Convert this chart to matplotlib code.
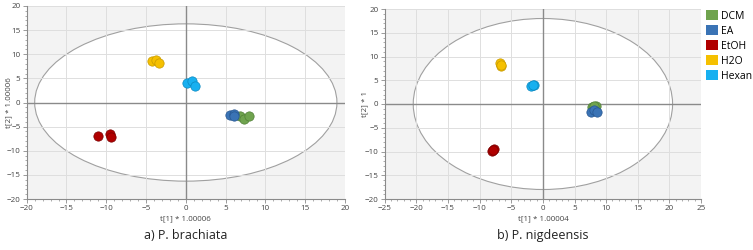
import matplotlib.pyplot as plt
from matplotlib.patches import Ellipse, Patch
from matplotlib.ticker import MultipleLocator

plt.rcParams["font.family"] = ["Open Sans", "DejaVu Sans"]


# =====================================================
# DATA
# =====================================================

groups = ["DCM", "EA", "EtOH", "H2O", "Hexan"]
colors = ["#6fa34e", "#3a73b5", "#b00000", "#f5c000", "#18b0f0"]
edges = ["#4f7f35", "#25558f", "#7a0000", "#c79a00", "#0a88c0"]

# P. brachiata scores (t[1], t[2])
a_x = {
    "DCM": [6.8, 7.3, 7.9],
    "EA": [5.6, 6.0, 6.1],
    "EtOH": [-11.1, -9.5, -9.4],
    "H2O": [-4.2, -3.8, -3.4],
    "Hexan": [0.1, 0.8, 1.1],
}
a_y = {
    "DCM": [-2.7, -3.4, -2.8],
    "EA": [-2.5, -2.4, -2.9],
    "EtOH": [-6.9, -6.6, -7.1],
    "H2O": [8.5, 8.9, 8.1],
    "Hexan": [4.0, 4.5, 3.4],
}

# P. nigdeensis scores
b_x = {
    "DCM": [7.7, 8.35, 8.0],
    "EA": [7.55, 8.1, 8.6],
    "EtOH": [-8.1, -7.8, -7.95],
    "H2O": [-6.75, -6.6, -6.7],
    "Hexan": [-1.85, -1.45, -1.6],
}
b_y = {
    "DCM": [-0.55, -0.4, -0.5],
    "EA": [-1.75, -1.25, -1.75],
    "EtOH": [-9.9, -9.45, -9.7],
    "H2O": [8.55, 8.1, 8.3],
    "Hexan": [3.85, 3.95, 3.9],
}

a_ellipse = (38.0, 32.6)
b_ellipse = (41.0, 36.0)


# =====================================================
# HELPERS
# =====================================================

def draw_panel(ax, xs, ys, ell, xlim, xlabel, ylabel, caption, ylab_x):
    ax.set_facecolor("#f3f3f3")
    ax.add_patch(Ellipse((0, 0), ell[0], ell[1], facecolor="white",
                         edgecolor="#a0a0a0", lw=0.8, zorder=0.2))
    ax.set_axisbelow(True)
    ax.grid(True, color="#dedede", lw=0.7)
    ax.axhline(0, color="#8a8a8a", lw=1.0, zorder=1)
    ax.axvline(0, color="#8a8a8a", lw=1.0, zorder=1)

    for g, c, e in zip(groups, colors, edges):
        ax.scatter(xs[g], ys[g], s=45, color=c, edgecolor=e,
                   linewidth=0.5, zorder=3)

    ax.set_xlim(*xlim)
    ax.set_ylim(-20, 20)
    ax.xaxis.set_major_locator(MultipleLocator(5))
    ax.yaxis.set_major_locator(MultipleLocator(5))
    ax.xaxis.set_minor_locator(MultipleLocator(1))
    ax.yaxis.set_minor_locator(MultipleLocator(1))

    for s in ["top", "right"]:
        ax.spines[s].set_visible(False)
    for s in ["left", "bottom"]:
        ax.spines[s].set_color("#8a8a8a")
        ax.spines[s].set_linewidth(0.8)

    ax.tick_params(which="major", labelsize=5.8, colors="#8a8a8a",
                   labelcolor="#444444", length=3, width=0.6, pad=1.5)
    ax.tick_params(which="minor", colors="#8a8a8a", length=1.5, width=0.5)

    ax.set_xlabel(xlabel, fontsize=5.8, color="#444444", labelpad=2)
    ax.set_ylabel(ylabel, fontsize=5.8, color="#444444")
    ax.yaxis.set_label_coords(ylab_x, 0.5)
    ax.text(0.5, -0.19, caption, transform=ax.transAxes, ha="center",
            va="center", fontsize=9, color="#222222")


# =====================================================
# PLOT
# =====================================================

fig = plt.figure(figsize=(7.53, 2.5), dpi=100)

ax1 = fig.add_axes([0.0355, 0.204, 0.4225, 0.772])
ax2 = fig.add_axes([0.511, 0.204, 0.42, 0.76])

draw_panel(ax1, a_x, a_y, a_ellipse, (-20, 20),
           "t[1] * 1.00006", "t[2] * 1.00006", "a) P. brachiata", -0.046)
draw_panel(ax2, b_x, b_y, b_ellipse, (-25, 25),
           "t[1] * 1.00004", "t[2] * 1", "b) P. nigdeensis", -0.052)

handles = [Patch(facecolor=c, edgecolor="none") for c in colors]
fig.legend(handles, groups, loc="upper left", bbox_to_anchor=(0.938, 0.96),
           frameon=False, fontsize=7.5, handlelength=1.15, handleheight=1.15,
           handletextpad=0.25, labelspacing=0.32, borderaxespad=0,
           borderpad=0)

fig.savefig("out.png", dpi=100)
